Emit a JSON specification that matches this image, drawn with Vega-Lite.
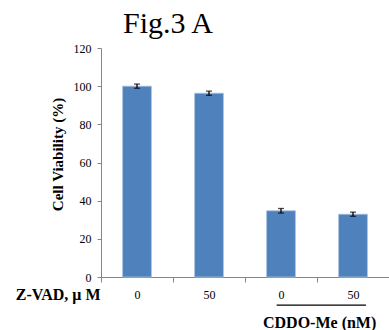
{
  "$schema": "https://vega.github.io/schema/vega-lite/v6.json",
  "width": 288,
  "height": 229,
  "autosize": {"type": "none"},
  "padding": {"left": 101, "top": 48, "right": 0, "bottom": 53},
  "background": "white",
  "title": {
    "text": "Fig.3 A",
    "font": "Liberation Serif",
    "fontSize": 30,
    "fontWeight": "normal",
    "color": "black",
    "anchor": "start",
    "frame": "group",
    "dx": 22,
    "baseline": "alphabetic",
    "offset": -21
  },
  "config": {
    "view": {"stroke": null},
    "font": "Liberation Serif",
    "axis": {"grid": false, "labelOverlap": false}
  },
  "datasets": {
    "bars": [
      {"key": "none|0", "cddo": "none", "zvad": "0", "viability": 100.0, "lo": 98.9, "hi": 101.1},
      {"key": "none|50", "cddo": "none", "zvad": "50", "viability": 96.3, "lo": 95.2, "hi": 97.4},
      {"key": "cddo|0", "cddo": "CDDO-Me", "zvad": "0", "viability": 34.7, "lo": 33.5, "hi": 35.9},
      {"key": "cddo|50", "cddo": "CDDO-Me", "zvad": "50", "viability": 32.9, "lo": 31.8, "hi": 34.0}
    ],
    "annot": [
      {"label": "CDDO-Me  (nM)"}
    ]
  },
  "layer": [
    {
      "data": {"name": "bars"},
      "encoding": {
        "x": {
          "field": "key",
          "type": "nominal",
          "sort": null,
          "scale": {"paddingInner": 0, "paddingOuter": 0},
          "axis": {
            "title": "Z-VAD, μ M",
            "titleFont": "Liberation Serif",
            "titleFontSize": 16,
            "titleFontWeight": "bold",
            "titleColor": "black",
            "titleAngle": 0,
            "titleAlign": "right",
            "titleBaseline": "middle",
            "titleX": -1,
            "titleY": 17,
            "labelExpr": "split(datum.value, '|')[1]",
            "labelAngle": 0,
            "labelFont": "Liberation Serif",
            "labelFontSize": 12,
            "labelColor": "black",
            "labelPadding": 7,
            "tickBand": "extent",
            "tickSize": 5,
            "tickColor": "#868686",
            "domainColor": "#868686",
            "domainWidth": 1
          }
        }
      },
      "layer": [
        {
          "mark": {"type": "bar", "width": {"band": 0.4}, "color": "#4f81bd", "stroke": "#a9c1e0", "strokeWidth": 0.8},
          "encoding": {
            "y": {
              "field": "viability",
              "type": "quantitative",
              "scale": {"domain": [0, 120], "nice": false},
              "axis": {
                "orient": "left",
                "title": "Cell Viability (%)",
                "titleFont": "Liberation Serif",
                "titleFontSize": 15,
                "titleFontWeight": "bold",
                "titleColor": "black",
                "titleBaseline": "middle",
                "titleX": -44,
                "titleY": 106,
                "values": [0, 20, 40, 60, 80, 100, 120],
                "labelOverlap": false,
                "labelFont": "Liberation Serif",
                "labelFontSize": 12,
                "labelColor": "black",
                "labelPadding": 6,
                "tickSize": 4,
                "tickColor": "#868686",
                "domainColor": "#868686"
              }
            }
          }
        },
        {
          "mark": {"type": "rule", "color": "black", "strokeWidth": 1.3},
          "encoding": {
            "y": {"field": "lo", "type": "quantitative", "axis": null},
            "y2": {"field": "hi"}
          }
        },
        {
          "mark": {"type": "tick", "color": "black", "size": 6, "thickness": 1.3, "orient": "horizontal"},
          "encoding": {"y": {"field": "lo", "type": "quantitative", "axis": null}}
        },
        {
          "mark": {"type": "tick", "color": "black", "size": 6, "thickness": 1.3, "orient": "horizontal"},
          "encoding": {"y": {"field": "hi", "type": "quantitative", "axis": null}}
        }
      ],
      "resolve": {"axis": {"y": "independent"}}
    },
    {
      "data": {"name": "annot"},
      "layer": [
        {
          "mark": {"type": "rule", "color": "black", "strokeWidth": 1.2},
          "encoding": {
            "x": {"datum": 2.44, "type": "quantitative", "scale": {"domain": [0, 4], "nice": false, "zero": false}, "axis": null},
            "x2": {"datum": 3.68},
            "y": {"datum": -14.7, "type": "quantitative", "axis": null}
          }
        },
        {
          "mark": {"type": "text", "font": "Liberation Serif", "fontSize": 16, "fontWeight": "bold", "color": "black", "align": "left", "baseline": "alphabetic"},
          "encoding": {
            "text": {"field": "label"},
            "x": {"datum": 2.25, "type": "quantitative", "scale": {"domain": [0, 4], "nice": false, "zero": false}, "axis": null},
            "y": {"datum": -26.7, "type": "quantitative", "axis": null}
          }
        }
      ],
      "resolve": {"axis": {"y": "independent"}}
    }
  ],
  "resolve": {"scale": {"x": "independent"}, "axis": {"x": "independent", "y": "independent"}}
}
